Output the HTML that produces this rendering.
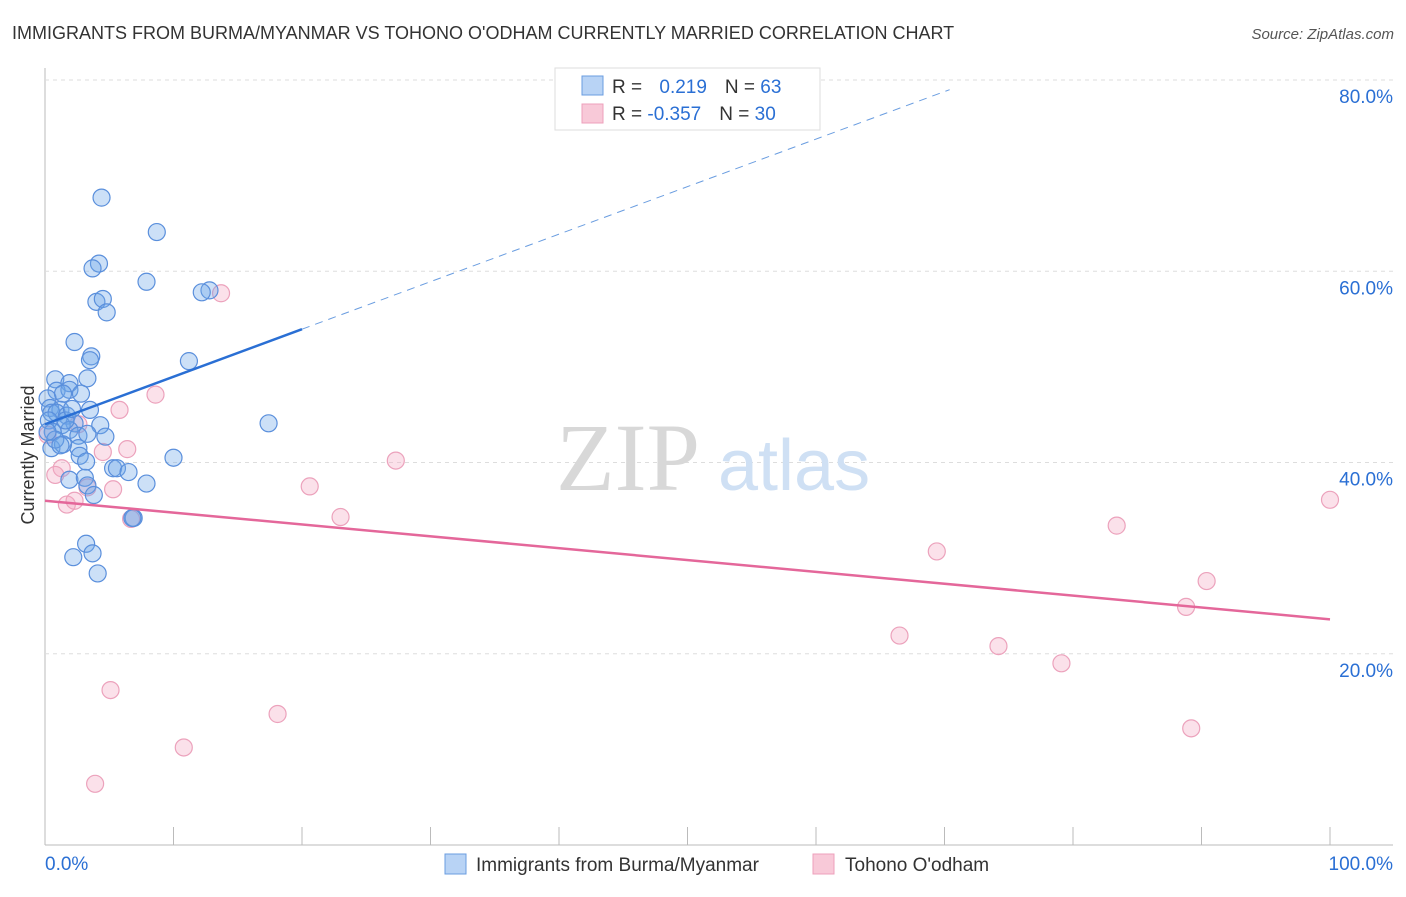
<!DOCTYPE html>
<html><head><meta charset="utf-8"><style>
body{margin:0;background:#fff;font-family:"Liberation Sans",sans-serif;}
svg text{font-family:"Liberation Sans",sans-serif;}
</style></head><body>
<svg id="chart" width="1406" height="892">
<text x="12" y="39" font-size="18" fill="#333">IMMIGRANTS FROM BURMA/MYANMAR VS TOHONO O'ODHAM CURRENTLY MARRIED CORRELATION CHART</text>
<text x="1394" y="39" font-size="15" fill="#555" font-style="italic" text-anchor="end">Source: ZipAtlas.com</text>
<g id="grid"></g>
<text x="700" y="490" font-size="96" fill="#d8d8d8" text-anchor="end" font-family="Liberation Serif" style="font-family:'Liberation Serif',serif">ZIP</text>
<text x="718" y="490" font-size="72" fill="#cfe0f4">atlas</text>
<text transform="translate(34,455) rotate(-90)" font-size="18" fill="#333" text-anchor="middle">Currently Married</text>
<g id="marks"></g>
<g>
<rect x="555" y="68" width="265" height="62" fill="#fff" stroke="#ddd"/>
<rect x="582" y="76" width="21" height="19" fill="#b8d3f5" stroke="#6a9de0"/>
<rect x="582" y="104" width="21" height="19" fill="#f8c9d8" stroke="#eea0bb"/>
<text x="612" y="93" font-size="19" fill="#333">R = <tspan fill="#2a6fd4" dx="12">0.219</tspan><tspan dx="18" fill="#333">N = </tspan><tspan fill="#2a6fd4">63</tspan></text>
<text x="612" y="120" font-size="19" fill="#333">R = <tspan fill="#2a6fd4">-0.357</tspan><tspan dx="18" fill="#333">N = </tspan><tspan fill="#2a6fd4">30</tspan></text>
</g>
<g>
<rect x="445" y="854" width="21" height="20" fill="#b8d3f5" stroke="#6a9de0"/>
<text x="476" y="871" font-size="19" fill="#333">Immigrants from Burma/Myanmar</text>
<rect x="813" y="854" width="21" height="20" fill="#f8c9d8" stroke="#eea0bb"/>
<text x="845" y="871" font-size="19" fill="#333">Tohono O'odham</text>
</g>
</svg>
<script>
const xTicks=[0,100];
const xTickLabels=["0.0%","100.0%"];
const yTicks=[20,40,60,80];
const yTickLabels=["20.0%","40.0%","60.0%","80.0%"];
const blueX=[4.4,8.7,4.2,3.7,7.9,12.8,12.2,4.0,4.5,4.8,2.3,3.6,3.5,11.2,0.8,3.3,1.9,0.9,1.9,2.8,0.2,1.4,0.4,1.2,3.5,0.5,0.9,1.7,2.3,1.3,1.9,4.3,17.4,0.3,0.6,2.6,3.3,4.7,0.5,2.6,1.4,2.7,3.2,10.0,5.3,5.6,6.5,1.9,3.1,3.3,7.9,3.8,6.9,6.8,3.2,2.2,3.7,4.1,0.8,0.2,1.2,1.6,2.1];
const blueY=[67.7,64.1,60.8,60.3,58.9,58.0,57.8,56.8,57.1,55.7,52.6,51.1,50.7,50.6,48.7,48.8,48.3,47.5,47.6,47.2,46.7,47.2,45.7,45.5,45.5,45.2,45.2,44.9,44.1,43.9,43.4,43.9,44.1,44.4,43.2,42.8,43.0,42.7,41.5,41.5,41.9,40.7,40.1,40.5,39.4,39.4,39.0,38.2,38.4,37.6,37.8,36.6,34.2,34.2,31.5,30.1,30.5,28.4,42.4,43.2,41.8,44.4,45.6];
const pinkX=[0.2,1.3,0.8,1.7,2.3,3.3,5.3,4.5,6.4,5.8,8.6,2.6,13.7,20.6,23.0,27.3,5.1,10.8,18.1,3.9,6.7,69.4,66.5,74.2,79.1,83.4,88.8,90.4,89.2,100];
const pinkY=[42.9,39.4,38.7,35.6,36.0,37.4,37.2,41.1,41.4,45.5,47.1,44.0,57.7,37.5,34.3,40.2,16.2,10.2,13.7,6.4,34.1,30.7,21.9,20.8,19.0,33.4,24.9,27.6,12.2,36.1];
const blueTrend=[44.0,0.497]; // intercept, slope
const blueSolidEnd=20, blueDashEnd=70.4;
const pinkTrend=[36.0,-0.124];
const NS="http://www.w3.org/2000/svg";
const X=v=>45+v*12.85, Y=v=>845-v*9.5625;
const svg=document.getElementById('chart'), grid=document.getElementById('grid'), marks=document.getElementById('marks');
function mk(tag,attrs,parent){const e=document.createElementNS(NS,tag);for(const k in attrs)e.setAttribute(k,attrs[k]);parent.appendChild(e);return e;}
let ax=mk('line',{x1:45,y1:68,x2:45,y2:845,stroke:'#bbb'},grid);


let bx=mk('line',{x1:45,y1:845,x2:1393,y2:845,stroke:'#bbb'},grid);


for(let i=1;i<=10;i++){let t=mk('line',{x1:X(i*10),y1:827,x2:X(i*10),y2:845,stroke:'#bbb'},grid);

}
yTicks.forEach((v,i)=>{let g=mk('line',{x1:45,y1:Y(v),x2:1393,y2:Y(v),stroke:'#ddd','stroke-dasharray':'4,4'},grid);


let t=mk('text',{x:1393,y:Y(v)+23,'font-size':19,fill:'#2a6fd4','text-anchor':'end'},grid);t.textContent=yTickLabels[i];

});
xTicks.forEach((v,i)=>{let t=mk('text',{x:i?1393:45,y:870,'font-size':19,fill:'#2a6fd4','text-anchor':i?'end':'start'},grid);t.textContent=xTickLabels[i];

});
pinkX.forEach((x,i)=>{let c=mk('circle',{cx:X(x),cy:Y(pinkY[i]),r:8.5,fill:'rgba(244,170,196,0.35)',stroke:'#eca2bc','stroke-width':1.2},marks);

});
blueX.forEach((x,i)=>{let c=mk('circle',{cx:X(x),cy:Y(blueY[i]),r:8.5,fill:'rgba(110,165,232,0.35)',stroke:'#5a8fdc','stroke-width':1.2},marks);

});
const by=x=>blueTrend[0]+blueTrend[1]*x, py=x=>pinkTrend[0]+pinkTrend[1]*x;
let l1=mk('line',{x1:X(0),y1:Y(by(0)),x2:X(blueSolidEnd),y2:Y(by(blueSolidEnd)),stroke:'#2a6fd4','stroke-width':2.5},marks);


let l2=mk('line',{x1:X(blueSolidEnd),y1:Y(by(blueSolidEnd)),x2:X(blueDashEnd),y2:Y(by(blueDashEnd)),stroke:'#6a9de0','stroke-width':1,'stroke-dasharray':'8,6'},marks);


let l3=mk('line',{x1:X(0),y1:Y(py(0)),x2:X(100),y2:Y(py(100)),stroke:'#e4679a','stroke-width':2.5},marks);


</script>
</body></html>
